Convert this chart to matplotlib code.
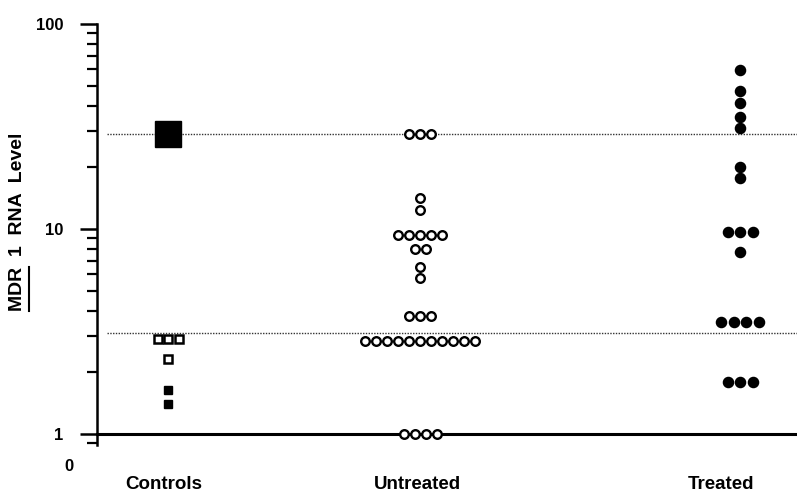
"""
MDR1 RNA level dot plot (controls / untreated / treated)
"""

import matplotlib.pyplot as plt
from matplotlib.lines import Line2D
import numpy as np

plt.rcParams['font.family'] = ['Liberation Sans', 'DejaVu Sans']
plt.rcParams['font.weight'] = 'bold'

# data: each row of dots = one level with a count of samples
categories = ['Controls', 'Untreated', 'Treated']

ctrl_big_levels = [29.0]
ctrl_open_levels = [2.9, 2.32]
ctrl_open_counts = [3, 1]
ctrl_filled_levels = [1.64, 1.40]
ctrl_filled_counts = [1, 1]

untreated_levels = [29.0, 14.2, 12.4, 9.4, 8.0, 6.5, 5.8, 3.76, 2.85, 1.0]
untreated_counts = [3, 1, 1, 5, 2, 1, 1, 3, 11, 4]

treated_levels = [59.5, 47.0, 41.0, 35.3, 31.0, 20.1, 17.7, 9.7, 7.75, 3.53, 1.8]
treated_counts = [1, 1, 1, 1, 1, 1, 1, 3, 1, 4, 3]

ref_lines = [29.0, 3.12]

# layout
cat_x = [0.71, 3.23, 6.43]
label_x = [0.67, 3.20, 6.24]


def rows_to_xy(center, levels, counts, step):
    xs, ys = [], []
    for lev, n in zip(levels, counts):
        offs = (np.arange(n) - (n - 1) / 2) * step
        xs.extend(center + offs)
        ys.extend([lev] * n)
    return xs, ys


fig = plt.figure(figsize=(7.97, 4.99), dpi=100)
ax = fig.add_axes([97 / 797, 54 / 499, 700 / 797, 421 / 499])

ax.set_yscale('log')
ax.set_ylim(0.884, 100)
ax.set_xlim(0, 7)

# reference lines
for v in ref_lines:
    ax.axhline(v, xmin=10 / 700, xmax=1, color='#333333', lw=1.0,
               linestyle=(0, (1, 1)), zorder=1)
ax.axhline(1, color='black', lw=2.2, zorder=1, clip_on=False)

# controls
x, y = rows_to_xy(cat_x[0], ctrl_big_levels, [1], 0.1)
ax.plot(x, y, 's', color='black', markersize=18.5, zorder=3)
x, y = rows_to_xy(cat_x[0], ctrl_open_levels, ctrl_open_counts, 0.105)
ax.plot(x, y, 's', mfc='white', mec='black', mew=1.8, markersize=5.8, zorder=3)
x, y = rows_to_xy(cat_x[0], ctrl_filled_levels, ctrl_filled_counts, 0.105)
ax.plot(x, y, 's', color='black', markersize=6, zorder=3)

# untreated
x, y = rows_to_xy(cat_x[1], untreated_levels, untreated_counts, 0.11)
ax.plot(x, y, 'o', mfc='white', mec='black', mew=1.7, markersize=6.2, zorder=3)

# treated
x, y = rows_to_xy(cat_x[2], treated_levels, treated_counts, 0.125)
ax.plot(x, y, 'o', color='black', markersize=7.3, zorder=3)

# axes styling
for s in ['top', 'right', 'bottom']:
    ax.spines[s].set_visible(False)
ax.spines['left'].set_linewidth(1.8)
ax.set_xticks([])
ax.set_yticks([1, 10, 100])
ax.set_yticklabels(['1', '10', '100'], fontsize=12, fontweight='bold')
ax.tick_params(axis='y', which='major', length=12, width=1.8, pad=12)
ax.tick_params(axis='y', which='minor', length=7, width=1.6)
ax.yaxis.set_minor_formatter(plt.NullFormatter())

ax.text(-0.033, -0.052, '0', transform=ax.transAxes, ha='right',
        va='center', fontsize=12, fontweight='bold')

for lx, lab in zip(label_x, categories):
    ax.text(lx, -0.093, lab, transform=ax.get_xaxis_transform(), ha='center',
            va='center', fontsize=13.5, fontweight='bold')

# y label with underlined "MDR"
ylab = fig.text(18 / 797, 1 - 222 / 499, 'MDR  1  RNA  Level', rotation=90,
                ha='center', va='center', fontsize=14, fontweight='bold')
fig.canvas.draw()
r = fig.canvas.get_renderer()
bb = ylab.get_window_extent(r)
tmp = fig.text(0, 0, 'MDR', fontsize=14, fontweight='bold')
mdr_len = tmp.get_window_extent(r).width
tmp.remove()
W, H = fig.bbox.width, fig.bbox.height
ux = (bb.x1 + 2) / W
fig.add_artist(Line2D([ux, ux], [bb.y0 / H, (bb.y0 + mdr_len) / H],
                      color='black', lw=1.5, transform=fig.transFigure))

fig.savefig('out.png', dpi=100)
